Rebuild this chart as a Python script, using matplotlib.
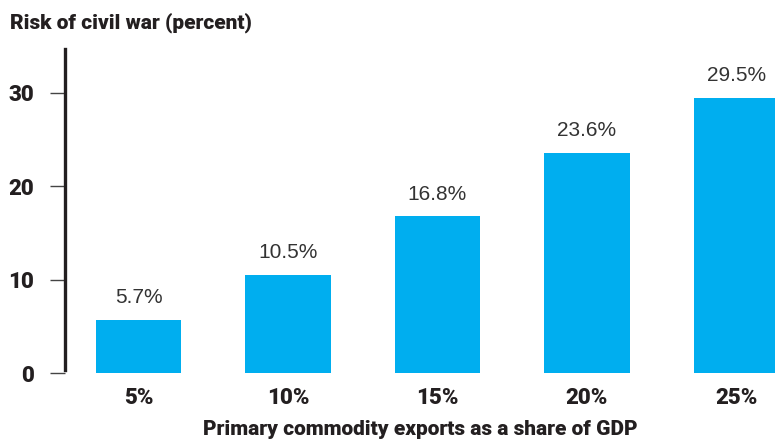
import matplotlib
matplotlib.use("Agg")
import matplotlib.pyplot as plt

# ── Data ──────────────────────────────────────────────────────────────────────
categories = ["5%", "10%", "15%", "20%", "25%"]
risk_pct = [5.7, 10.5, 16.8, 23.6, 29.5]
value_labels = ["5.7%", "10.5%", "16.8%", "23.6%", "29.5%"]
y_ticks = [0, 10, 20, 30]

BAR_COLOR = "#00AEEF"
INK = "#231F20"
COND = ["Roboto", "DejaVu Sans"]
REG = ["Liberation Sans", "DejaVu Sans"]
HEAVY = 900

W, H = 775, 443
fig = plt.figure(figsize=(W / 100, H / 100), dpi=100)
fig.patch.set_facecolor("white")

# axes placed in pixel terms: spine at x=65, zero at y=373, top at y=49
ax = fig.add_axes([65 / W, (H - 373) / H, (W - 65) / W, (373 - 49) / H])
x = list(range(len(categories)))
ax.bar(x, risk_pct, width=0.57, color=BAR_COLOR, zorder=2)

for xi, v, lab in zip(x, risk_pct, value_labels):
    ax.annotate(lab, (xi, v), xytext=(0, 9), textcoords="offset points",
                ha="center", va="bottom", fontsize=15, color="#333333",
                family=REG)

ax.set_xlim(-0.492, 4.258)
ax.set_ylim(0, 34.7)

for s in ["top", "right", "bottom"]:
    ax.spines[s].set_visible(False)
ax.spines["left"].set_linewidth(2.4)
ax.spines["left"].set_color(INK)
ax.spines["left"].set_bounds(0.35, 34.7)

ax.set_yticks(y_ticks)
ax.set_yticklabels([str(t) for t in y_ticks], fontsize=16, fontweight=HEAVY,
                   color=INK, family=COND)
ax.tick_params(axis="y", length=11, width=1, color="#444444", pad=11)

ax.set_xticks(x)
ax.set_xticklabels(categories, fontsize=16, fontweight=HEAVY, color=INK,
                   family=COND)
ax.tick_params(axis="x", length=0, pad=10)

ax.set_xlabel("Primary commodity exports as a share of GDP", fontsize=15,
              fontweight=HEAVY, color=INK, family=COND, labelpad=8)

fig.text(10 / W, 1 - 23 / H, "Risk of civil war (percent)", fontsize=15,
         fontweight=HEAVY, color=INK, family=COND, ha="left", va="center")

fig.savefig("out.png", dpi=100)
